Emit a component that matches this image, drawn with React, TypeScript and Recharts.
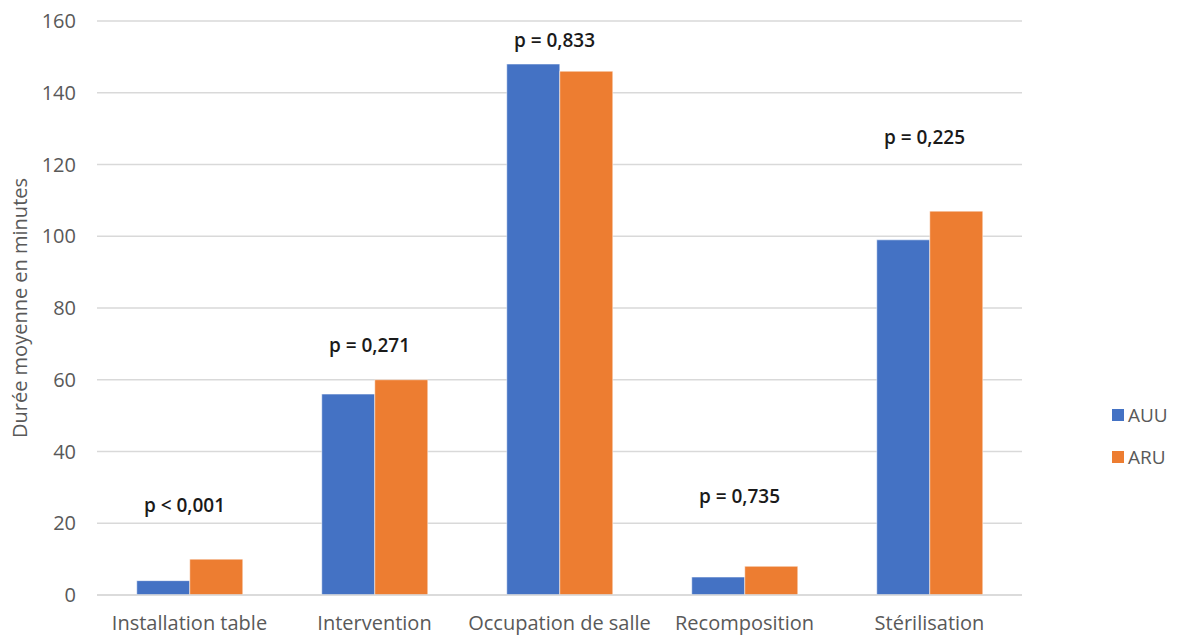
import { BarChart, Bar, XAxis, YAxis, CartesianGrid, ReferenceDot } from "recharts";

const categories = ["Installation table", "Intervention", "Occupation de salle", "Recomposition", "Stérilisation"];
const auu = [4, 56, 148, 5, 99];
const aru = [10, 60, 146, 8, 107];
const pLabels = ["p < 0,001", "p = 0,271", "p = 0,833", "p = 0,735", "p = 0,225"];
const pLabelY = [25, 69.5, 154.5, 27.5, 127.5];
const yTicks = [0, 20, 40, 60, 80, 100, 120, 140, 160];

const BLUE = "#4472c4";
const ORANGE = "#ed7d31";
const FONT = "'Open Sans', sans-serif";

const data = categories.map((name, i) => ({ name, AUU: auu[i], ARU: aru[i] }));

const legendItems = [
    { name: "AUU", color: BLUE },
    { name: "ARU", color: ORANGE },
];

export default function App() {
    return (
        <div style={{ position: "relative", width: 1163, height: 629, fontFamily: FONT }}>
            <BarChart
                width={1163}
                height={629}
                data={data}
                margin={{ top: 13, right: 149, bottom: 12, left: 0 }}
                barCategoryGap="21.5%"
                barGap={0}
            >
                <CartesianGrid vertical={false} stroke="#d9d9d9" strokeWidth={1.5} />
                <XAxis
                    dataKey="name"
                    axisLine={{ stroke: "#d9d9d9", strokeWidth: 1.5 }}
                    tickLine={false}
                    tickSize={0}
                    tickMargin={21}
                    height={30}
                    tick={{ fill: "#595959", fontSize: 20, fontFamily: FONT }}
                    interval={0}
                />
                <YAxis
                    domain={[0, 160]}
                    ticks={yTicks}
                    width={89}
                    axisLine={false}
                    tickLine={false}
                    tickSize={0}
                    tickMargin={21}
                    tick={{ fill: "#595959", fontSize: 20, fontFamily: FONT }}
                    label={{
                        value: "Durée moyenne en minutes",
                        angle: -90,
                        position: "insideLeft",
                        offset: 12,
                        style: { textAnchor: "middle", fill: "#595959", fontSize: 20, fontFamily: FONT },
                    }}
                />
                <Bar dataKey="AUU" fill={BLUE} stroke="#ffffff" strokeWidth={0.5} isAnimationActive={false} />
                <Bar dataKey="ARU" fill={ORANGE} stroke="#ffffff" strokeWidth={0.5} isAnimationActive={false} />
                {categories.map((c, i) => (
                    <ReferenceDot
                        key={c}
                        x={c}
                        y={pLabelY[i]}
                        r={0}
                        fill="none"
                        stroke="none"
                        label={{
                            value: pLabels[i],
                            position: "center",
                            dx: -5,
                            fill: "#1a1a1a",
                            fontSize: 19,
                            fontWeight: 600,
                            fontFamily: FONT,
                        }}
                    />
                ))}
            </BarChart>
            <div style={{ position: "absolute", left: 1104, top: 386 }}>
                {legendItems.map((it) => (
                    <div key={it.name} style={{ display: "flex", alignItems: "center", height: 42, fontSize: 19, color: "#595959" }}>
                        <span style={{ display: "inline-block", width: 12, height: 12, background: it.color, marginRight: 4 }} />
                        {it.name}
                    </div>
                ))}
            </div>
        </div>
    );
}
